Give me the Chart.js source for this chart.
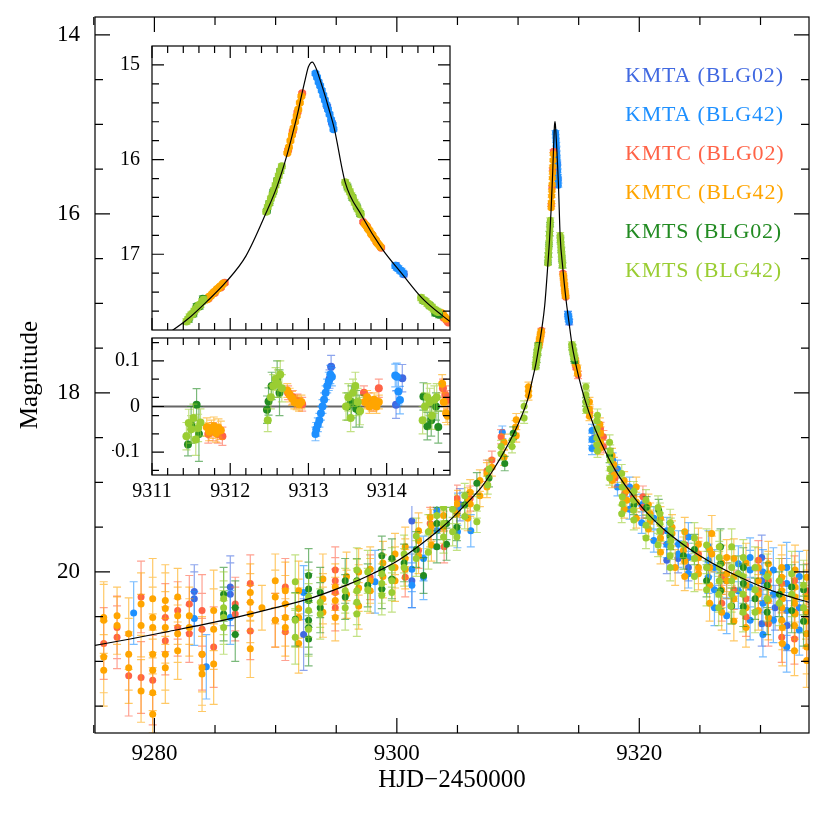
<!DOCTYPE html>
<html>
<head>
<meta charset="utf-8">
<script src="https://cdn.jsdelivr.net/npm/chart.js@4.4.1/dist/chart.umd.min.js"></script>
<style>
html, body { margin: 0; padding: 0; background: #fff; }
#wrap { position: relative; width: 830px; height: 814px; }
canvas { position: absolute; }
</style>
</head>
<body>
<div id="wrap">
  <canvas id="main" width="830" height="814" style="left:0;top:0"></canvas>
  <canvas id="insetTop" width="342" height="294" style="left:112px;top:40px"></canvas>
  <canvas id="insetRes" width="342" height="172" style="left:112px;top:334px"></canvas>
</div>
<script>
// series names / colours (legend order)
const seriesNames = ['KMTA (BLG02)', 'KMTA (BLG42)', 'KMTC (BLG02)', 'KMTC (BLG42)', 'KMTS (BLG02)', 'KMTS (BLG42)'];
const seriesColors = ['#4169e1', '#1e90ff', '#ff6347', '#ffa500', '#228b22', '#9acd32'];

// tick values
const mainXLabels = [9280, 9300, 9320];
const mainXMinor = [9275, 9285, 9290, 9295, 9305, 9310, 9315, 9325, 9330];
const mainYLabels = [14, 16, 18, 20];
const mainYMinor = [14.5, 15, 15.5, 16.5, 17, 17.5, 18.5, 19, 19.5, 20.5, 21, 21.5];
const insetXLabels = [9311, 9312, 9313, 9314];
const insetXMinor = [9311.2, 9311.4, 9311.6, 9311.8, 9312.2, 9312.4, 9312.6, 9312.8, 9313.2, 9313.4, 9313.6, 9313.8, 9314.2, 9314.4, 9314.6];
const insetYLabels = [15, 16, 17];
const insetYMinor = [15.2, 15.4, 15.6, 15.8, 16.2, 16.4, 16.6, 16.8, 17.2, 17.4, 17.6];
const residYLabels = [-0.1, 0, 0.1];
const residYMinor = [-0.14, -0.06, -0.02, 0.02, 0.06, 0.14];

// model light curve (HJD-2450000, mag)
const modelT = [9275.1, 9278, 9281, 9284, 9287, 9290, 9293, 9296, 9298, 9300, 9302, 9304, 9305.5, 9307, 9308, 9309, 9310, 9310.8,
  9311.2, 9311.45, 9311.7, 9311.95, 9312.2, 9312.46, 9312.6, 9312.73, 9312.8, 9312.86, 9312.91, 9312.96, 9313.0, 9313.05,
  9313.1, 9313.15, 9313.2, 9313.26, 9313.33, 9313.47, 9313.68, 9313.94, 9314.2, 9314.45, 9314.7, 9315.0, 9315.5, 9316.2,
  9317.0, 9318.0, 9319.2, 9320.5, 9322, 9324, 9326, 9328, 9330, 9332, 9334];
const modelMag = [20.82, 20.75, 20.67, 20.59, 20.50, 20.40, 20.29, 20.14, 20.02, 19.88, 19.69, 19.47, 19.27, 19.05, 18.85, 18.62, 18.35, 18.07,
  17.84, 17.69, 17.50, 17.29, 17.02, 16.56, 16.28, 15.94, 15.72, 15.52, 15.33, 15.15, 15.02, 14.97,
  15.04, 15.16, 15.29, 15.46, 15.67, 16.24, 16.59, 16.94, 17.21, 17.46, 17.64, 17.82, 18.07, 18.35,
  18.60, 18.86, 19.10, 19.32, 19.52, 19.73, 19.90, 20.04, 20.16, 20.26, 20.34];

// photometry rows: [HJD-2450000, error, mag, mag, ...]
const kmtaBlg02 = [
  [9283.29, 0.30, 20.22, 20.30], [9286.26, 0.35, 20.17, 20.25], [9292.31, 0.40, 20.70],
  [9301.24, 0.30, 19.43, 20.10], [9305.20, 0.18, 19.25],
  [9313.24, 0.02, 15.44], [9313.30, 0.02, 15.61], [9314.12, 0.03, 17.12], [9314.22, 0.03, 17.21],
  [9316.30, 0.08, 18.50], [9322.27, 0.15, 19.87], [9323.20, 0.16, 19.85], [9324.05, 0.15, 19.95], [9325.70, 0.18, 19.95],
  [9327.20, 0.20, 20.10], [9330.10, 0.25, 19.84, 20.10, 20.58], [9331.20, 0.25, 20.40], [9332.20, 0.28, 20.60]
];
const kmtaBlg42 = [
  [9278.29, 0.35, 20.46], [9283.29, 0.30, 20.52], [9284.28, 0.36, 21.06], [9286.26, 0.30, 20.51],
  [9292.31, 0.30, 20.23], [9298.20, 0.35, 20.11], [9301.24, 0.25, 19.97, 20.15], [9302.20, 0.25, 19.85, 20.06],
  [9303.30, 0.20, 19.31, 19.54], [9305.00, 0.18, 19.30, 19.55], [9306.10, 0.18, 19.54], [9308.70, 0.07, 18.44],
  [9313.09, 0.02, 15.09], [9313.11, 0.02, 15.13], [9313.13, 0.02, 15.18], [9313.15, 0.02, 15.22], [9313.17, 0.02, 15.27],
  [9313.19, 0.02, 15.32], [9313.21, 0.02, 15.37], [9313.23, 0.02, 15.42], [9313.25, 0.02, 15.47], [9313.27, 0.02, 15.52],
  [9313.29, 0.02, 15.58], [9313.31, 0.02, 15.63], [9313.32, 0.02, 15.68],
  [9314.11, 0.03, 17.12], [9314.13, 0.03, 17.14], [9314.15, 0.03, 17.15], [9314.17, 0.03, 17.17], [9314.19, 0.03, 17.18], [9314.21, 0.03, 17.20],
  [9316.10, 0.07, 18.42, 18.52, 18.62], [9317.80, 0.08, 18.75, 18.88], [9318.20, 0.10, 18.85, 19.05], [9319.20, 0.11, 19.05, 19.30],
  [9320.20, 0.12, 19.25, 19.45], [9321.20, 0.13, 19.40, 19.65], [9322.27, 0.15, 19.54, 19.69],
  [9323.23, 0.15, 19.69, 19.80], [9324.05, 0.16, 19.61, 19.84, 20.02], [9325.70, 0.18, 19.72, 19.87, 20.06],
  [9326.20, 0.20, 19.95, 20.20, 20.40], [9327.21, 0.20, 20.49], [9328.17, 0.20, 19.91, 20.02, 20.21],
  [9329.14, 0.22, 19.84, 19.98, 20.17, 20.54], [9330.20, 0.25, 20.00, 20.35, 20.70],
  [9331.06, 0.25, 19.98, 20.25, 20.54], [9332.16, 0.28, 19.95, 20.13, 20.43, 20.84], [9333.20, 0.28, 20.05, 20.40, 20.65]
];
const kmtcBlg02 = [
  [9275.82, 0.40, 20.80], [9276.92, 0.35, 20.62, 20.73], [9277.88, 0.45, 21.16], [9278.90, 0.40, 20.28, 21.18],
  [9279.86, 0.50, 21.21], [9280.90, 0.38, 20.51, 20.77], [9281.92, 0.32, 20.43, 20.62], [9282.88, 0.32, 20.36, 20.69],
  [9283.93, 0.40, 20.43, 20.64, 20.92], [9284.89, 0.45, 20.84], [9286.67, 0.30, 20.36, 20.47], [9287.91, 0.32, 20.13, 20.66],
  [9289.97, 0.30, 20.54], [9290.80, 0.32, 20.17, 20.67], [9294.92, 0.26, 19.98, 20.10, 20.23, 20.40], [9297.80, 0.25, 20.06],
  [9300.69, 0.22, 20.06], [9301.79, 0.20, 19.76], [9302.75, 0.18, 19.46], [9303.90, 0.18, 19.72], [9304.95, 0.15, 19.18],
  [9306.05, 0.14, 19.18], [9307.43, 0.12, 18.87], [9307.84, 0.10, 18.75], [9308.60, 0.08, 18.49],
  [9311.72, 0.02, 17.47], [9311.80, 0.02, 17.41], [9311.88, 0.02, 17.35], [9311.93, 0.02, 17.30],
  [9312.74, 0.015, 15.90], [9312.80, 0.015, 15.70], [9312.86, 0.015, 15.50], [9312.92, 0.015, 15.30],
  [9313.70, 0.015, 16.66], [9313.75, 0.015, 16.71], [9313.81, 0.015, 16.79], [9313.87, 0.015, 16.87], [9313.93, 0.015, 16.93],
  [9314.73, 0.02, 17.67], [9314.77, 0.02, 17.70], [9314.79, 0.02, 17.72],
  [9314.95, 0.04, 17.80], [9315.90, 0.05, 18.22], [9316.80, 0.07, 18.40], [9317.04, 0.07, 18.49, 18.60], [9318.00, 0.10, 18.95],
  [9318.80, 0.10, 19.12], [9319.52, 0.10, 19.16], [9320.30, 0.12, 19.16, 19.28], [9321.80, 0.13, 19.55], [9323.80, 0.16, 19.70],
  [9324.88, 0.18, 19.80], [9326.80, 0.20, 20.05, 20.35], [9327.80, 0.22, 20.20], [9328.80, 0.22, 20.30, 20.50],
  [9329.82, 0.22, 19.87, 20.21], [9330.65, 0.25, 20.10, 20.58], [9331.75, 0.28, 20.13, 20.73],
  [9332.80, 0.28, 20.10, 20.45, 20.75], [9333.81, 0.30, 20.21, 20.69]
];
const kmtcBlg42 = [
  [9275.82, 0.40, 20.51, 20.54, 20.95, 21.10], [9276.92, 0.32, 20.49, 20.60], [9277.88, 0.40, 20.69, 20.92, 21.07],
  [9278.90, 0.35, 20.36, 20.60, 21.33], [9279.86, 0.45, 20.30, 20.51, 20.62, 20.92, 21.10, 21.35, 21.59],
  [9280.90, 0.40, 20.32, 20.41, 20.62, 20.92, 21.07], [9281.92, 0.32, 20.28, 20.49, 20.69, 20.88], [9282.88, 0.32, 20.49, 20.62],
  [9283.93, 0.42, 20.92, 21.07, 21.14], [9284.89, 0.45, 20.43, 20.64, 21.03], [9287.91, 0.32, 20.23, 20.34, 20.47, 20.86],
  [9288.87, 0.25, 20.40], [9289.97, 0.30, 20.10, 20.28, 20.54], [9290.80, 0.32, 20.21, 20.36, 20.51, 20.62],
  [9291.90, 0.33, 20.21, 20.41, 20.51, 20.80], [9293.90, 0.28, 20.08, 20.30, 20.45], [9294.92, 0.26, 20.17, 20.32, 20.51],
  [9295.85, 0.27, 20.05, 20.25], [9296.85, 0.26, 20.00, 20.18, 20.38], [9297.80, 0.25, 19.97, 20.10, 20.21],
  [9298.85, 0.24, 19.90, 20.05], [9299.85, 0.23, 19.80, 19.95, 20.10],
  [9300.69, 0.22, 19.72, 19.85, 19.97], [9301.79, 0.20, 19.54, 19.65, 19.82], [9302.75, 0.18, 19.39, 19.54],
  [9302.85, 0.18, 19.48, 19.70], [9303.85, 0.18, 19.37, 19.50], [9304.95, 0.15, 19.24, 19.35], [9305.85, 0.14, 19.20, 19.40],
  [9306.05, 0.14, 19.11, 19.24], [9306.85, 0.12, 18.98, 19.15], [9307.43, 0.12, 18.90, 19.05],
  [9307.84, 0.10, 18.83], [9308.85, 0.09, 18.55, 18.72], [9309.80, 0.07, 18.38], [9309.85, 0.07, 18.30, 18.48],
  [9310.86, 0.05, 17.93, 17.98, 18.03],
  [9311.69, 0.02, 17.48], [9311.71, 0.02, 17.47], [9311.73, 0.02, 17.45], [9311.75, 0.02, 17.44], [9311.77, 0.02, 17.42],
  [9311.79, 0.02, 17.40], [9311.81, 0.02, 17.39], [9311.83, 0.02, 17.37], [9311.85, 0.02, 17.36], [9311.87, 0.02, 17.34],
  [9311.89, 0.02, 17.33], [9311.91, 0.02, 17.31],
  [9312.73, 0.015, 15.93], [9312.75, 0.015, 15.87], [9312.77, 0.015, 15.80], [9312.79, 0.015, 15.74], [9312.81, 0.015, 15.67],
  [9312.83, 0.015, 15.60], [9312.85, 0.015, 15.54], [9312.87, 0.015, 15.47], [9312.89, 0.015, 15.40], [9312.91, 0.015, 15.33],
  [9313.72, 0.015, 16.68], [9313.74, 0.015, 16.70], [9313.76, 0.015, 16.73], [9313.78, 0.015, 16.75], [9313.80, 0.015, 16.78],
  [9313.82, 0.015, 16.80], [9313.84, 0.015, 16.83], [9313.86, 0.015, 16.85], [9313.88, 0.015, 16.88], [9313.90, 0.015, 16.90],
  [9313.92, 0.015, 16.92],
  [9314.70, 0.02, 17.62], [9314.72, 0.02, 17.64], [9314.74, 0.02, 17.66], [9314.76, 0.02, 17.68],
  [9314.90, 0.03, 17.72, 17.78], [9315.89, 0.05, 18.10, 18.18, 18.26], [9316.75, 0.07, 18.35, 18.62], [9316.80, 0.07, 18.45, 18.55],
  [9317.75, 0.08, 18.70, 18.98], [9317.90, 0.08, 18.80, 18.92], [9318.75, 0.10, 18.98, 19.30], [9318.97, 0.10, 19.09, 19.20],
  [9319.75, 0.11, 19.05, 19.22, 19.40], [9320.75, 0.12, 19.25, 19.52], [9320.90, 0.12, 19.35, 19.43],
  [9321.75, 0.13, 19.40, 19.62, 19.78], [9322.70, 0.14, 19.50, 19.57],
  [9322.96, 0.20, 19.95], [9323.64, 0.15, 19.76], [9323.75, 0.16, 19.55, 19.88, 20.05], [9324.88, 0.18, 19.69, 19.84, 19.95, 20.02],
  [9325.80, 0.20, 19.75, 19.95, 20.15, 20.35], [9325.98, 0.20, 19.57, 19.80], [9326.80, 0.20, 19.90, 20.20, 20.45],
  [9327.21, 0.20, 19.84, 20.02, 20.10], [9327.80, 0.22, 19.85, 20.05, 20.30, 20.55], [9328.80, 0.22, 19.90, 20.15, 20.40, 20.62],
  [9329.82, 0.22, 19.95, 20.10, 20.25, 20.43], [9330.65, 0.25, 19.91, 20.02, 20.17, 20.32, 20.51],
  [9331.75, 0.25, 19.95, 20.06, 20.21, 20.40, 20.54], [9331.80, 0.25, 20.30, 20.62, 20.80],
  [9332.85, 0.28, 19.98, 20.17, 20.28, 20.47], [9332.80, 0.28, 20.35, 20.60, 20.88],
  [9333.81, 0.30, 20.06, 20.28, 20.69, 20.84, 20.99], [9333.75, 0.30, 20.45, 20.55]
];
const kmtsBlg02 = [
  [9285.71, 0.30, 20.25, 20.47], [9286.67, 0.30, 20.40, 20.70], [9291.62, 0.30, 20.53],
  [9292.72, 0.30, 20.04, 20.19, 20.32, 20.54, 20.62, 20.75], [9293.68, 0.28, 20.23, 20.40], [9295.74, 0.25, 20.10, 20.28],
  [9296.70, 0.25, 20.10], [9297.60, 0.24, 20.15], [9298.76, 0.22, 19.82, 19.97, 20.19], [9299.59, 0.22, 19.85, 20.08],
  [9300.60, 0.21, 19.90], [9301.60, 0.20, 19.75], [9302.20, 0.20, 20.04],
  [9303.30, 0.18, 19.46, 19.72], [9304.10, 0.18, 19.46, 19.69], [9304.95, 0.15, 19.50], [9305.60, 0.14, 19.25],
  [9306.60, 0.12, 19.01], [9307.60, 0.10, 18.95], [9308.90, 0.08, 18.79], [9309.60, 0.07, 18.45],
  [9311.47, 0.03, 17.69], [9311.53, 0.03, 17.63], [9311.57, 0.03, 17.55], [9311.61, 0.03, 17.55], [9311.65, 0.03, 17.47],
  [9312.47, 0.025, 16.54], [9312.50, 0.025, 16.46], [9312.55, 0.025, 16.34], [9312.60, 0.025, 16.22], [9312.64, 0.025, 16.12],
  [9313.50, 0.03, 16.29], [9313.56, 0.03, 16.40], [9313.62, 0.03, 16.50], [9313.66, 0.03, 16.57],
  [9314.47, 0.03, 17.49], [9314.55, 0.03, 17.54], [9314.62, 0.03, 17.62], [9314.67, 0.03, 17.64],
  [9315.60, 0.05, 18.10], [9317.55, 0.08, 18.70], [9319.55, 0.11, 19.25], [9320.60, 0.12, 19.28], [9321.60, 0.12, 19.31],
  [9322.55, 0.15, 19.60], [9323.64, 0.15, 19.82], [9324.55, 0.17, 19.75], [9325.55, 0.18, 20.10],
  [9326.70, 0.20, 19.72, 19.91, 20.21], [9327.62, 0.20, 20.38], [9328.58, 0.22, 19.95, 20.13, 20.39], [9329.55, 0.23, 20.30],
  [9330.55, 0.25, 20.15, 20.45], [9331.55, 0.25, 20.25], [9332.57, 0.25, 20.17, 20.43], [9333.55, 0.28, 20.20, 20.55]
];
const kmtsBlg42 = [
  [9285.71, 0.30, 20.30, 20.40, 20.51, 20.62], [9291.62, 0.30, 20.11, 20.54, 20.73], [9292.72, 0.30, 20.28, 20.43, 20.64],
  [9293.68, 0.28, 20.34, 20.47], [9295.74, 0.25, 20.21, 20.40], [9296.70, 0.25, 19.98, 20.11, 20.21, 20.34, 20.47],
  [9297.60, 0.24, 20.00, 20.20], [9298.76, 0.22, 20.02, 20.13, 20.26], [9299.59, 0.22, 19.95, 20.10, 20.23],
  [9300.60, 0.21, 19.80, 19.95], [9301.60, 0.20, 19.60, 19.85], [9302.60, 0.19, 19.55, 19.78], [9303.30, 0.20, 19.37],
  [9303.85, 0.18, 19.28, 19.46, 19.61], [9304.60, 0.16, 19.30, 19.55], [9304.95, 0.15, 19.61], [9305.60, 0.14, 19.15, 19.38],
  [9306.60, 0.12, 19.28, 19.44], [9307.50, 0.10, 19.03], [9307.60, 0.10, 18.85],
  [9308.60, 0.07, 18.60, 18.68], [9309.50, 0.07, 18.53, 18.60], [9310.50, 0.06, 18.15, 18.28],
  [9311.44, 0.03, 17.71], [9311.46, 0.03, 17.69], [9311.48, 0.03, 17.66], [9311.50, 0.03, 17.64], [9311.52, 0.03, 17.63],
  [9311.54, 0.03, 17.60], [9311.56, 0.03, 17.58], [9311.58, 0.03, 17.56], [9311.60, 0.03, 17.54], [9311.62, 0.03, 17.53],
  [9311.64, 0.03, 17.50], [9311.66, 0.03, 17.48],
  [9312.46, 0.025, 16.55], [9312.48, 0.025, 16.50], [9312.50, 0.025, 16.46], [9312.52, 0.025, 16.41], [9312.54, 0.025, 16.37],
  [9312.56, 0.025, 16.32], [9312.58, 0.025, 16.27], [9312.60, 0.025, 16.22], [9312.62, 0.025, 16.17], [9312.64, 0.025, 16.12],
  [9312.66, 0.025, 16.07],
  [9313.47, 0.03, 16.24], [9313.49, 0.03, 16.27], [9313.51, 0.03, 16.31], [9313.53, 0.03, 16.34], [9313.55, 0.03, 16.38],
  [9313.57, 0.03, 16.41], [9313.59, 0.03, 16.45], [9313.61, 0.03, 16.48], [9313.63, 0.03, 16.52], [9313.65, 0.03, 16.55],
  [9313.67, 0.03, 16.58],
  [9314.44, 0.03, 17.46], [9314.46, 0.03, 17.48], [9314.48, 0.03, 17.49], [9314.50, 0.03, 17.50], [9314.52, 0.03, 17.52],
  [9314.54, 0.03, 17.53], [9314.56, 0.03, 17.55], [9314.58, 0.03, 17.56], [9314.60, 0.03, 17.58], [9314.62, 0.03, 17.59],
  [9314.64, 0.03, 17.60], [9314.66, 0.03, 17.61],
  [9315.60, 0.04, 17.93, 18.02, 18.10, 18.19], [9316.50, 0.06, 18.31, 18.40, 18.50, 18.58], [9316.55, 0.07, 18.25, 18.65],
  [9317.55, 0.08, 18.55, 18.95], [9317.60, 0.07, 18.65, 18.75, 18.85], [9318.55, 0.10, 18.90, 19.35],
  [9318.60, 0.10, 19.05, 19.16, 19.24], [9319.52, 0.10, 19.20, 19.31], [9319.55, 0.11, 19.10, 19.42],
  [9320.55, 0.12, 19.20, 19.48, 19.62], [9320.90, 0.12, 19.39], [9321.55, 0.13, 19.28, 19.70], [9321.70, 0.12, 19.35, 19.46, 19.54],
  [9322.55, 0.15, 19.45, 19.82, 19.95], [9322.60, 0.14, 19.54, 19.65, 19.72], [9323.64, 0.15, 19.69],
  [9324.55, 0.17, 19.62, 19.85, 20.05], [9325.55, 0.18, 19.70, 19.95, 20.20], [9326.55, 0.20, 20.25, 20.40],
  [9326.60, 0.18, 19.72, 19.84, 19.95, 20.10], [9327.55, 0.20, 20.38], [9327.62, 0.20, 19.72, 19.95, 20.10, 20.25],
  [9328.17, 0.20, 20.02], [9328.55, 0.22, 20.05, 20.25, 20.45], [9328.58, 0.20, 19.84], [9329.55, 0.23, 19.95, 20.20, 20.45],
  [9330.55, 0.25, 20.05, 20.30], [9331.55, 0.25, 20.10, 20.35], [9332.57, 0.25, 20.02, 20.25], [9333.55, 0.28, 20.15, 20.40]
];

// residual rows: [HJD-2450000, error, residual, ...]
const kmtaBlg02Res = [[9313.27, 0.02, 0.06], [9313.29, 0.025, 0.087], [9314.12, 0.03, 0.004], [9314.20, 0.03, 0.062]];
const kmtaBlg42Res = [
  [9313.09, 0.015, -0.06], [9313.10, 0.015, -0.05], [9313.12, 0.015, -0.04], [9313.14, 0.015, -0.03], [9313.16, 0.015, -0.015],
  [9313.18, 0.015, 0.0], [9313.20, 0.015, 0.015], [9313.22, 0.015, 0.03], [9313.24, 0.015, 0.045], [9313.26, 0.02, 0.055],
  [9313.28, 0.02, 0.07], [9313.30, 0.02, 0.065],
  [9314.11, 0.025, 0.068], [9314.13, 0.03, 0.065], [9314.15, 0.03, 0.033], [9314.17, 0.03, 0.014]
];
const kmtcBlg02Res = [
  [9311.72, 0.02, -0.06], [9311.78, 0.02, -0.055], [9311.84, 0.02, -0.06], [9311.90, 0.02, -0.065],
  [9312.74, 0.015, 0.03], [9312.80, 0.015, 0.02], [9312.86, 0.015, 0.012], [9312.92, 0.015, 0.005],
  [9313.71, 0.015, 0.03], [9313.77, 0.015, 0.015], [9313.83, 0.015, 0.005], [9313.90, 0.02, 0.04],
  [9314.72, 0.02, 0.04], [9314.75, 0.02, 0.025], [9314.78, 0.02, 0.015]
];
const kmtcBlg42Res = [
  [9311.70, 0.02, -0.045], [9311.73, 0.02, -0.055], [9311.76, 0.02, -0.05], [9311.79, 0.02, -0.043], [9311.82, 0.02, -0.058],
  [9311.85, 0.02, -0.047], [9311.88, 0.02, -0.052],
  [9312.73, 0.015, 0.035], [9312.76, 0.015, 0.025], [9312.79, 0.015, 0.018], [9312.82, 0.015, 0.01], [9312.85, 0.015, 0.008],
  [9312.88, 0.015, 0.005], [9312.91, 0.015, 0.01],
  [9313.72, 0.015, 0.01], [9313.75, 0.015, 0.02], [9313.78, 0.015, 0.0], [9313.81, 0.015, 0.005], [9313.84, 0.015, 0.015],
  [9313.87, 0.015, 0.0], [9313.90, 0.015, 0.01],
  [9314.71, 0.02, 0.05], [9314.73, 0.02, 0.01], [9314.76, 0.02, -0.015], [9314.78, 0.02, -0.02]
];
const kmtsBlg02Res = [
  [9311.46, 0.025, -0.083], [9311.50, 0.04, -0.04], [9311.57, 0.035, 0.004], [9311.60, 0.06, -0.06],
  [9312.47, 0.03, -0.007], [9312.49, 0.03, 0.011], [9312.53, 0.03, 0.045], [9312.60, 0.04, 0.06], [9312.63, 0.05, 0.03],
  [9313.50, 0.03, 0.0], [9313.55, 0.035, 0.01], [9313.61, 0.04, -0.005], [9313.65, 0.035, -0.01],
  [9314.47, 0.03, 0.022], [9314.52, 0.03, -0.043], [9314.57, 0.035, -0.03], [9314.63, 0.03, 0.0], [9314.66, 0.035, -0.045]
];
const kmtsBlg42Res = [
  [9311.44, 0.03, -0.065], [9311.47, 0.03, -0.036], [9311.50, 0.03, -0.05], [9311.53, 0.03, -0.025], [9311.56, 0.035, -0.072],
  [9311.59, 0.03, -0.047], [9311.62, 0.03, -0.035],
  [9312.48, 0.025, -0.03], [9312.52, 0.025, 0.02], [9312.55, 0.025, 0.045], [9312.58, 0.025, 0.06], [9312.61, 0.03, 0.05],
  [9312.64, 0.03, 0.07], [9312.66, 0.03, 0.04],
  [9313.48, 0.03, 0.0], [9313.51, 0.03, 0.02], [9313.54, 0.03, -0.025], [9313.57, 0.03, 0.03], [9313.60, 0.03, 0.045],
  [9313.63, 0.03, 0.01], [9313.66, 0.03, -0.01],
  [9314.46, 0.03, -0.03], [9314.49, 0.03, 0.0], [9314.52, 0.03, 0.02], [9314.55, 0.03, 0.01], [9314.58, 0.03, -0.02],
  [9314.61, 0.03, 0.015], [9314.64, 0.03, 0.02]
];

const photRows = [kmtaBlg02, kmtaBlg42, kmtcBlg02, kmtcBlg42, kmtsBlg02, kmtsBlg42];
const residRows = [kmtaBlg02Res, kmtaBlg42Res, kmtcBlg02Res, kmtcBlg42Res, kmtsBlg02Res, kmtsBlg42Res];

const SERIF = '"Liberation Serif", "Times New Roman", serif';

function expand(rows) {
  const pts = [];
  rows.forEach(r => r.slice(2).forEach(m => pts.push({ x: r[0], y: m, err: r[1] })));
  return pts;
}

function alpha(hex, a) {
  const n = parseInt(hex.slice(1), 16);
  return `rgba(${(n >> 16) & 255}, ${(n >> 8) & 255}, ${n & 255}, ${a})`;
}

function pointSets(rowsList, radius) {
  return rowsList.map((rows, i) => ({
    type: 'scatter',
    label: seriesNames[i],
    data: expand(rows),
    backgroundColor: seriesColors[i],
    borderWidth: 0,
    pointRadius: radius,
    barColor: alpha(seriesColors[i], 0.6),
    order: 6 - i
  }));
}

function modelSet() {
  return {
    type: 'line',
    data: modelT.map((t, i) => ({ x: t, y: modelMag[i] })),
    borderColor: '#000',
    borderWidth: 1.2,
    pointRadius: 0,
    cubicInterpolationMode: 'monotone',
    order: 0
  };
}

// vertical error bars with caps, drawn just before each dataset
function errorBars(cap) {
  return {
    id: 'errorBars',
    beforeDatasetDraw(chart, args) {
      const ds = chart.data.datasets[args.index];
      if (!ds.barColor) return;
      const { ctx, chartArea: a, scales: { x, y } } = chart;
      ctx.save();
      ctx.beginPath();
      ctx.rect(a.left, a.top, a.right - a.left, a.bottom - a.top);
      ctx.clip();
      ctx.strokeStyle = ds.barColor;
      ctx.lineWidth = 1.2;
      ctx.beginPath();
      ds.data.forEach(p => {
        const px = x.getPixelForValue(p.x);
        const y1 = y.getPixelForValue(p.y - p.err);
        const y2 = y.getPixelForValue(p.y + p.err);
        ctx.moveTo(px, y1); ctx.lineTo(px, y2);
        ctx.moveTo(px - cap, y1); ctx.lineTo(px + cap, y1);
        ctx.moveTo(px - cap, y2); ctx.lineTo(px + cap, y2);
      });
      ctx.stroke();
      ctx.restore();
    }
  };
}

// box + inward tick marks on all four sides
function frameTicks(t) {
  return {
    id: 'frameTicks',
    afterDatasetsDraw(chart) {
      const { ctx, chartArea: a, scales: { x, y } } = chart;
      ctx.save();
      ctx.strokeStyle = '#000';
      ctx.lineWidth = 1.2;
      ctx.beginPath();
      const xt = (vals, len) => vals.forEach(v => {
        const p = x.getPixelForValue(v);
        ctx.moveTo(p, a.bottom); ctx.lineTo(p, a.bottom - len);
        ctx.moveTo(p, a.top); ctx.lineTo(p, a.top + len);
      });
      const yt = (vals, len) => vals.forEach(v => {
        const p = y.getPixelForValue(v);
        ctx.moveTo(a.left, p); ctx.lineTo(a.left + len, p);
        ctx.moveTo(a.right, p); ctx.lineTo(a.right - len, p);
      });
      xt(t.xMajor, t.major); xt(t.xMinor, t.minor);
      yt(t.yMajor, t.major); yt(t.yMinor, t.minor);
      ctx.stroke();
      ctx.strokeRect(a.left, a.top, a.right - a.left, a.bottom - a.top);
      ctx.restore();
    }
  };
}

const whiteBg = {
  id: 'whiteBg',
  beforeDraw(chart) {
    const ctx = chart.ctx;
    ctx.save();
    ctx.fillStyle = '#fff';
    ctx.fillRect(0, 0, chart.width, chart.height);
    ctx.restore();
  }
};

const zeroLine = {
  id: 'zeroLine',
  beforeDatasetsDraw(chart) {
    const { ctx, chartArea: a, scales: { y } } = chart;
    const p = y.getPixelForValue(0);
    ctx.save();
    ctx.strokeStyle = '#666';
    ctx.lineWidth = 2;
    ctx.beginPath();
    ctx.moveTo(a.left, p); ctx.lineTo(a.right, p);
    ctx.stroke();
    ctx.restore();
  }
};

// coloured text-only legend, top right
const legendText = {
  id: 'legendText',
  afterDraw(chart) {
    const ctx = chart.ctx;
    ctx.save();
    ctx.font = '22px ' + SERIF;
    if ('letterSpacing' in ctx) ctx.letterSpacing = '0.8px';
    ctx.textBaseline = 'middle';
    seriesNames.forEach((n, i) => {
      ctx.fillStyle = seriesColors[i];
      ctx.fillText(n, 625, 76 + i * 39);
    });
    ctx.restore();
  }
};

function fixTicks(values) {
  return scale => { scale.ticks = values.map(v => ({ value: v })); };
}
function noPad(size, horiz) {
  return scale => {
    if (horiz) scale.height = size; else scale.width = size;
    scale.paddingTop = scale.paddingBottom = scale.paddingLeft = scale.paddingRight = 0;
  };
}
const minusFmt = v => (v < 0 ? '\u2212' + String(-v) : String(v));

// main chart
new Chart(document.getElementById('main'), {
  type: 'scatter',
  data: { datasets: [modelSet(), ...pointSets(photRows, 3.5)] },
  options: {
    responsive: false, animation: false, devicePixelRatio: 1, events: [],
    layout: { padding: { left: 0, top: 17, right: 21, bottom: 0 } },
    plugins: { legend: { display: false }, tooltip: { enabled: false } },
    scales: {
      x: {
        type: 'linear', min: 9275.1, max: 9334,
        afterBuildTicks: fixTicks(mainXLabels),
        afterFit: noPad(81, true),
        grid: { display: false, drawTicks: false }, border: { display: false },
        ticks: { color: '#000', font: { family: SERIF, size: 23 }, padding: 7, maxRotation: 0, autoSkip: false, callback: v => String(v) },
        title: { display: true, text: 'HJD\u22122450000', color: '#000', font: { family: SERIF, size: 25 }, padding: { top: 0, bottom: 19 } }
      },
      y: {
        type: 'linear', reverse: true, min: 13.8, max: 21.8,
        afterBuildTicks: fixTicks(mainYLabels),
        afterFit: noPad(95, false),
        grid: { display: false, drawTicks: false }, border: { display: false },
        ticks: { color: '#000', font: { family: SERIF, size: 23 }, padding: 15, autoSkip: false, callback: v => String(v) },
        title: { display: true, text: 'Magnitude', color: '#000', font: { family: SERIF, size: 25 }, padding: { top: 15, bottom: 0 } }
      }
    }
  },
  plugins: [errorBars(4), frameTicks({ xMajor: mainXLabels, xMinor: mainXMinor, yMajor: mainYLabels, yMinor: mainYMinor, major: 15, minor: 8 }), legendText]
});

// inset: zoom on the peak
new Chart(document.getElementById('insetTop'), {
  type: 'scatter',
  data: { datasets: [modelSet(), ...pointSets(photRows, 4)] },
  options: {
    responsive: false, animation: false, devicePixelRatio: 1, events: [],
    layout: { padding: { left: 0, top: 6, right: 2, bottom: 2 } },
    plugins: { legend: { display: false }, tooltip: { enabled: false } },
    scales: {
      x: { type: 'linear', min: 9311, max: 9314.81, display: false },
      y: {
        type: 'linear', reverse: true, min: 14.8, max: 17.8,
        afterBuildTicks: fixTicks(insetYLabels),
        afterFit: noPad(40, false),
        grid: { display: false, drawTicks: false }, border: { display: false },
        ticks: { color: '#000', font: { family: SERIF, size: 20 }, padding: 12, autoSkip: false, callback: v => String(v) }
      }
    }
  },
  plugins: [whiteBg, errorBars(4), frameTicks({ xMajor: insetXLabels, xMinor: insetXMinor, yMajor: insetYLabels, yMinor: insetYMinor, major: 12, minor: 7 })]
});

// inset: residuals
new Chart(document.getElementById('insetRes'), {
  type: 'scatter',
  data: { datasets: pointSets(residRows, 4) },
  options: {
    responsive: false, animation: false, devicePixelRatio: 1, events: [],
    layout: { padding: { left: 0, top: 4, right: 2, bottom: 0 } },
    plugins: { legend: { display: false }, tooltip: { enabled: false } },
    scales: {
      x: {
        type: 'linear', min: 9311, max: 9314.81,
        afterBuildTicks: fixTicks(insetXLabels),
        afterFit: noPad(31, true),
        grid: { display: false, drawTicks: false }, border: { display: false },
        ticks: { color: '#000', font: { family: SERIF, size: 20 }, padding: 5, maxRotation: 0, autoSkip: false, callback: v => String(v) }
      },
      y: {
        type: 'linear', min: -0.15, max: 0.15,
        afterBuildTicks: fixTicks(residYLabels),
        afterFit: noPad(40, false),
        grid: { display: false, drawTicks: false }, border: { display: false },
        ticks: { color: '#000', font: { family: SERIF, size: 20 }, padding: 12, autoSkip: false, callback: minusFmt }
      }
    }
  },
  plugins: [whiteBg, zeroLine, errorBars(4), frameTicks({ xMajor: insetXLabels, xMinor: insetXMinor, yMajor: residYLabels, yMinor: residYMinor, major: 12, minor: 7 })]
});
</script>
</body>
</html>
